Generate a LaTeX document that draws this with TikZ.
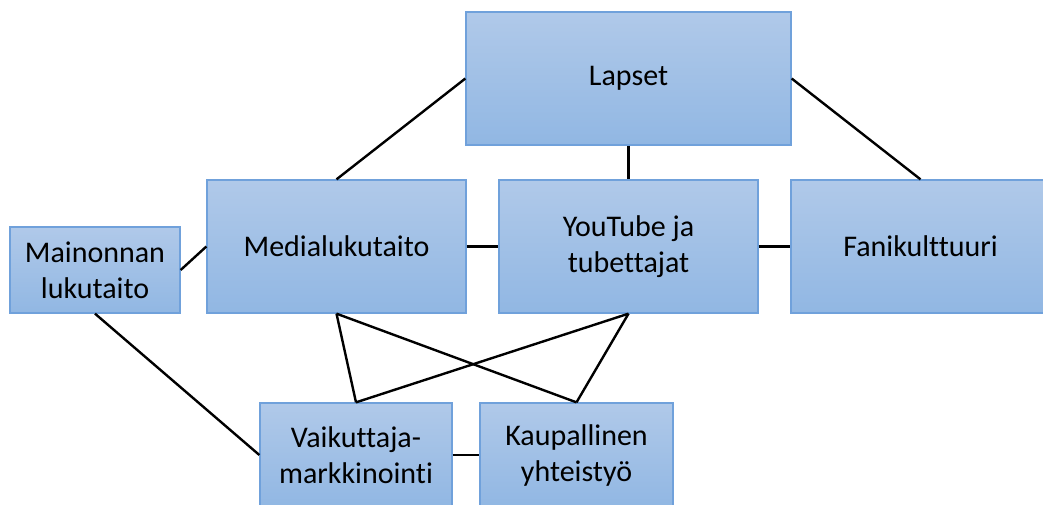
\documentclass[tikz,border=0pt]{standalone}
\usepackage{fontspec}
\setmainfont{Carlito}[Ligatures=NoCommon]

\begin{document}
\begin{tikzpicture}[x=1pt, y=-1pt,
    box/.style={rectangle, draw=boxline, line width=1.3pt, top color=boxtop, bottom color=boxbot,
        inner sep=0pt, align=center, font=\fontsize{30}{36}\selectfont},
    link/.style={black, line width=2.4pt}]
    % W/H = size of the big boxes
    \def\W{259}
    \def\H{133}

    \definecolor{boxtop}{RGB}{176,201,233}
    \definecolor{boxbot}{RGB}{145,183,227}
    \definecolor{boxline}{RGB}{112,161,219}

    \useasboundingbox (0,0) rectangle (1043,504);

    % Top row
    \node[box, minimum width=325pt, minimum height=\H pt] (lapset) at (628.5,78.5) {Lapset};

    % Middle row
    \node[box, minimum width=\W pt, minimum height=\H pt] (media) at (336.5,246.5) {Medialukutaito};
    \node[box, minimum width=\W pt, minimum height=\H pt] (youtube) at (628.5,246.5) {YouTube ja\\tubettajat};
    \node[box, minimum width=\W pt, minimum height=\H pt] (fani) at (920.5,246.5) {Fanikulttuuri};
    \node[box, minimum width=170pt, minimum height=86pt] (mainonta) at (95,270) {Mainonnan\\lukutaito};

    % Bottom row
    \node[box, minimum width=192pt, minimum height=104pt] (vaikuttaja) at (356,455) {Vaikuttaja-\\markkinointi};
    \node[box, minimum width=193pt, minimum height=104pt] (kaupallinen) at (576.5,455) {Kaupallinen\\yhteistyö};

    % Links
    \draw[link] (lapset.west) -- (media.north);
    \draw[link] (lapset.south) -- (youtube.north);
    \draw[link] (lapset.east) -- (fani.north);
    \draw[link] (media.east) -- (youtube.west);
    \draw[link] (youtube.east) -- (fani.west);
    \draw[link] (mainonta.east) -- (media.west);
    \draw[link] (mainonta.south) -- (vaikuttaja.west);
    \draw[link] (vaikuttaja.east) -- (kaupallinen.west);
    \foreach \a in {media, youtube} {
        \draw[link] (\a.south) -- (vaikuttaja.north);
        \draw[link] (\a.south) -- (kaupallinen.north);
    }
\end{tikzpicture}
\end{document}
